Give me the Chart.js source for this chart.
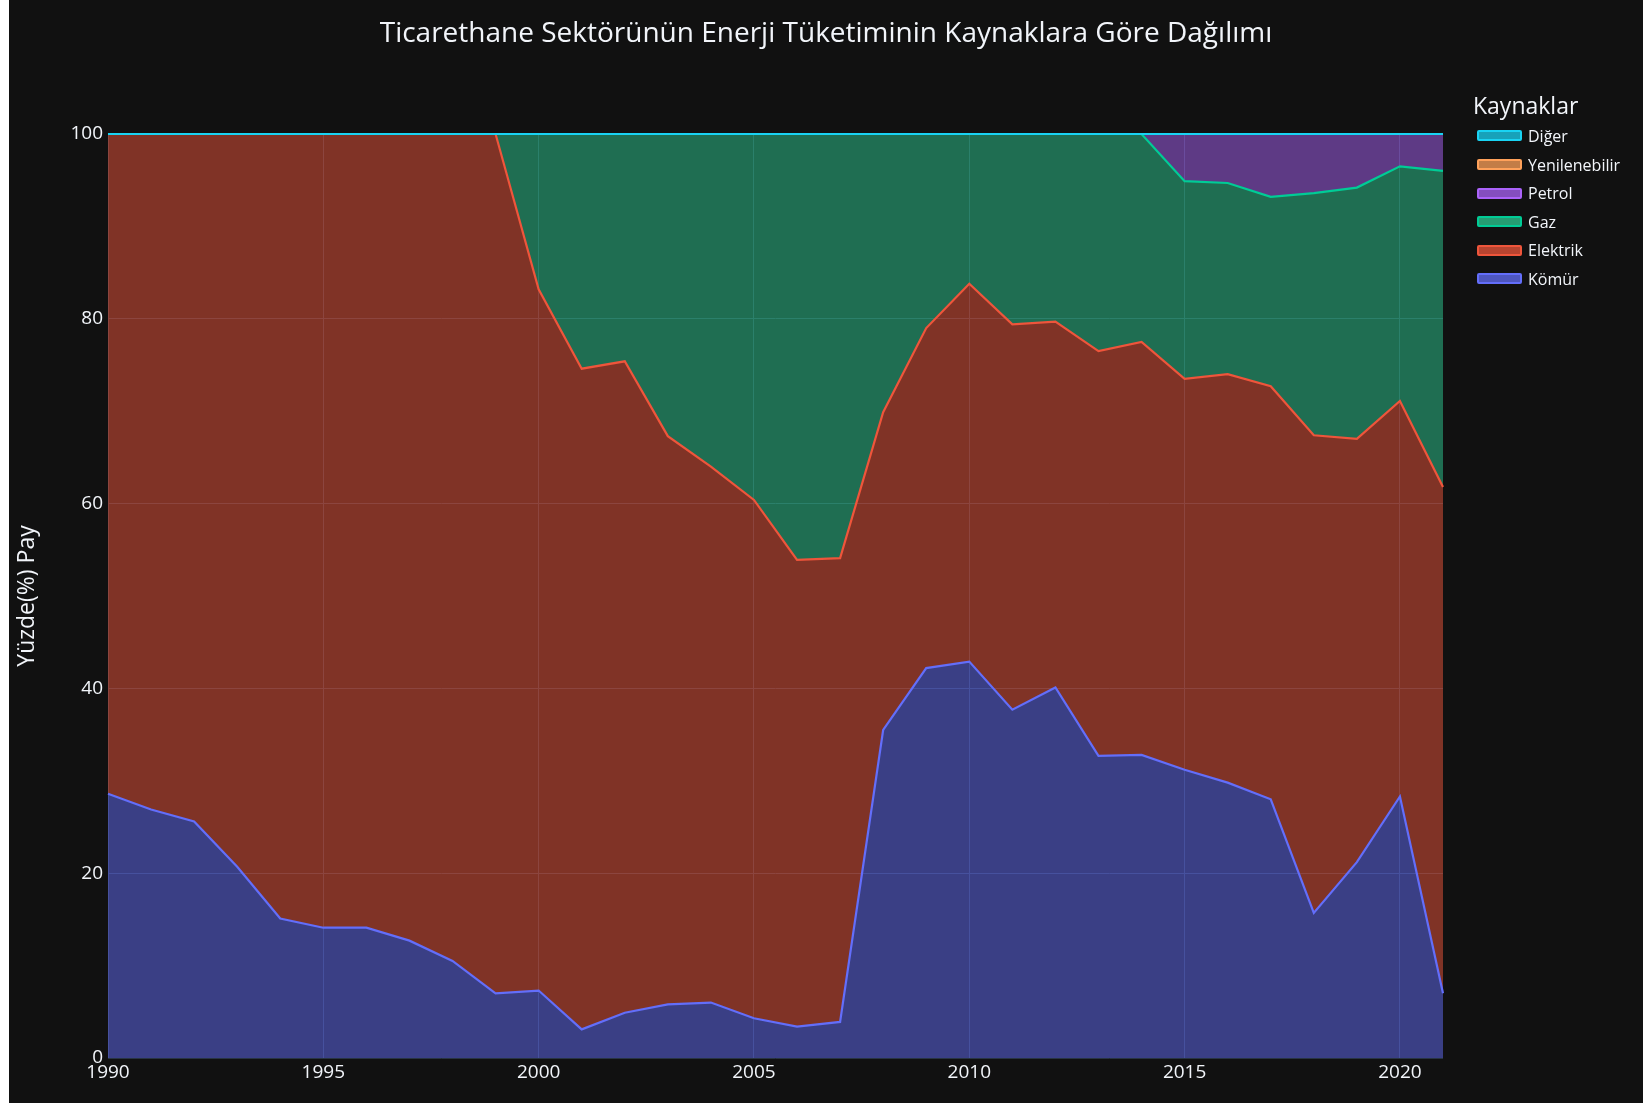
<!DOCTYPE html>
<html lang="tr">
<head>
<meta charset="utf-8">
<title>Ticarethane Sektörü Enerji Tüketimi</title>
<script src="https://cdn.jsdelivr.net/npm/chart.js@4.4.1/dist/chart.umd.min.js"></script>
<style>
  html, body { margin: 0; padding: 0; background: #ffffff; }
  #kutu { position: absolute; left: 9px; top: 0; width: 1634px; height: 1103px; background: #111111; overflow: hidden; }
  #grafik { position: absolute; left: 0; top: 0; }
  #baslik { position: absolute; left: 0; top: 14px; width: 1634px; text-align: center; color: #f2f5fa;
            font-family: "Open Sans", sans-serif; font-size: 28px; line-height: 34px; }
  #lejant { position: absolute; left: 1464px; top: 91px; color: #f2f5fa; font-family: "Open Sans", sans-serif; }
  #lejant .baslik { font-size: 23px; line-height: 28px; height: 28px; margin-bottom: 2.7px; }
  #lejant .satir { display: flex; align-items: center; height: 28.6px; font-size: 16px; white-space: nowrap; }
  #lejant .kutucuk { box-sizing: border-box; width: 45px; height: 11px; margin-left: 4px; margin-right: 6px; border: 2px solid; border-radius: 2px; }
</style>
</head>
<body>
<div id="kutu">
  <canvas id="grafik" width="1634" height="1103"></canvas>
  <div id="baslik">Ticarethane Sektörünün Enerji Tüketiminin Kaynaklara Göre Dağılımı</div>
  <div id="lejant"></div>
</div>
<script>
// yillar ve kaynaklara gore paylar (%)
var yillar = [1990, 1991, 1992, 1993, 1994, 1995, 1996, 1997, 1998, 1999,
              2000, 2001, 2002, 2003, 2004, 2005, 2006, 2007, 2008, 2009,
              2010, 2011, 2012, 2013, 2014, 2015, 2016, 2017, 2018, 2019,
              2020, 2021];

var komur = [28.6, 26.9, 25.6, 20.7, 15.1, 14.1, 14.1, 12.7, 10.5, 7.0,
             7.3, 3.1, 4.9, 5.8, 6.0, 4.3, 3.4, 3.9, 35.5, 42.2,
             42.9, 37.7, 40.1, 32.7, 32.8, 31.2, 29.8, 28.0, 15.7, 21.2,
             28.3, 7.0];

var elektrik = [71.4, 73.1, 74.4, 79.3, 84.9, 85.9, 85.9, 87.3, 89.5, 93.0,
                75.9, 71.5, 70.5, 61.5, 58.0, 56.1, 50.5, 50.2, 34.4, 36.8,
                40.9, 41.7, 39.6, 43.8, 44.7, 42.3, 44.2, 44.7, 51.7, 45.8,
                42.8, 54.8];

var gaz = [0, 0, 0, 0, 0, 0, 0, 0, 0, 0,
           16.8, 25.4, 24.6, 32.7, 36.0, 39.6, 46.1, 45.9, 30.1, 21.0,
           16.2, 20.6, 20.3, 23.5, 22.5, 21.4, 20.7, 20.5, 26.2, 27.2,
           25.4, 34.2];

var petrol = [0, 0, 0, 0, 0, 0, 0, 0, 0, 0,
              0, 0, 0, 0, 0, 0, 0, 0, 0, 0,
              0, 0, 0, 0, 0, 5.1, 5.3, 6.8, 6.4, 5.8,
              3.5, 4.0];

var yenilenebilir = [0, 0, 0, 0, 0, 0, 0, 0, 0, 0,
                     0, 0, 0, 0, 0, 0, 0, 0, 0, 0,
                     0, 0, 0, 0, 0, 0, 0, 0, 0, 0,
                     0, 0];

var diger = [0, 0, 0, 0, 0, 0, 0, 0, 0, 0,
             0, 0, 0, 0, 0, 0, 0, 0, 0, 0,
             0, 0, 0, 0, 0, 0, 0, 0, 0, 0,
             0, 0];

var seriAdlari = ['Kömür', 'Elektrik', 'Gaz', 'Petrol', 'Yenilenebilir', 'Diğer'];
var seriler = [komur, elektrik, gaz, petrol, yenilenebilir, diger];

var cizgiRenk = ['#636efa', '#EF553B', '#00cc96', '#ab63fa', '#FFA15A', '#19d3f3'];
var dolguRenk = ['rgba(99,110,250,0.5)', 'rgba(239,85,59,0.5)', 'rgba(45,204,148,0.5)',
                 'rgba(171,99,250,0.5)', 'rgba(255,161,90,0.5)', 'rgba(25,211,243,0.5)'];
var lejantRenk = ['rgba(99,110,250,0.75)', 'rgba(239,85,59,0.75)', 'rgba(45,204,148,0.75)',
                  'rgba(171,99,250,0.75)', 'rgba(255,161,90,0.75)', 'rgba(25,211,243,0.75)'];

Chart.defaults.font.family = "'Open Sans', sans-serif";
Chart.defaults.color = '#f2f5fa';

// ust uste toplam (plotly stackgroup gibi), cizim sirasi ayri tutulsun diye
function ustUste(){
  var toplam = [];
  var onceki = yillar.map(function(){ return 0; });
  for (var k = 0; k < seriler.length; k++) {
    var satir = [];
    for (var i = 0; i < yillar.length; i++) {
      satir.push(onceki[i] + seriler[k][i]);
    }
    toplam.push(satir);
    onceki = satir;
  }
  return toplam;
}

var toplamlar = ustUste();
var veriSetleri = [];
for (var k = 0; k < seriler.length; k++) {
  veriSetleri.push({
    label: seriAdlari[k],
    data: yillar.map(function(yil, i){ return {x: yil, y: toplamlar[k][i]}; }),
    borderColor: cizgiRenk[k],
    backgroundColor: dolguRenk[k],
    borderWidth: 2.2,
    pointRadius: 0,
    tension: 0,
    clip: false,
    fill: k === 0 ? 'origin' : '-1',
    order: seriler.length - k
  });
}

var grafik = new Chart(document.getElementById('grafik').getContext('2d'), {
  type: 'line',
  data: { datasets: veriSetleri },
  options: {
    responsive: false,
    animation: false,
    layout: { padding: { left: 0, right: 200, top: 134, bottom: 0 } },
    plugins: {
      legend: { display: false },
      tooltip: { enabled: false },
      filler: { drawTime: 'beforeDatasetsDraw' }
    },
    scales: {
      x: {
        type: 'linear',
        min: 1990,
        max: 2021,
        border: { display: false },
        grid: { color: '#283442', lineWidth: 1, drawTicks: false },
        ticks: {
          stepSize: 5,
          includeBounds: false,
          autoSkip: false,
          maxRotation: 0,
          padding: 3,
          color: '#f2f5fa',
          font: { size: 19 },
          callback: function(v){ return String(v); }
        },
        afterFit: function(scale){ scale.height = 45; }
      },
      y: {
        min: 0,
        max: 100,
        border: { display: false },
        grid: { color: '#283442', lineWidth: 1, drawTicks: false },
        ticks: { stepSize: 20, padding: 5, color: '#f2f5fa', font: { size: 19 } },
        title: {
          display: true,
          text: 'Yüzde(%) Pay',
          color: '#f2f5fa',
          font: { size: 23 },
          padding: { top: 5, bottom: 0 }
        },
        afterFit: function(scale){ scale.width = 99; }
      }
    }
  }
});

// lejant (plotly gibi ters sirada)
function lejantYap(){
  var kutu = document.getElementById('lejant');
  var html = '<div class="baslik">Kaynaklar</div>';
  for (var k = seriAdlari.length - 1; k >= 0; k--) {
    html += '<div class="satir"><span class="kutucuk" style="background:' + lejantRenk[k] +
            ';border-color:' + cizgiRenk[k] + '"></span>' + seriAdlari[k] + '</div>';
  }
  kutu.innerHTML = html;
}
lejantYap();
</script>
</body>
</html>
